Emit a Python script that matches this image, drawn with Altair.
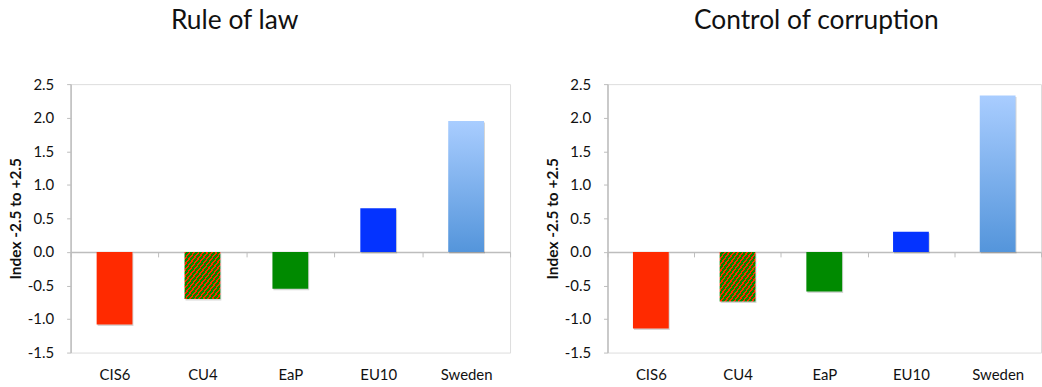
import altair as alt
import pandas as pd

# Governance indicators by country group (index range -2.5 to +2.5)
categories = ["CIS6", "CU4", "EaP", "EU10", "Sweden"]
rule_of_law = [-1.08, -0.70, -0.55, 0.65, 1.95]
control_of_corruption = [-1.14, -0.74, -0.59, 0.30, 2.33]
y_ticks = [-1.5, -1.0, -0.5, 0.0, 0.5, 1.0, 1.5, 2.0, 2.5]

solid_groups = ["CIS6", "EaP", "EU10"]
solid_colors = ["#FF2A00", "#008A00", "#0433FF"]
hatch_red, hatch_green = "#FF2A00", "#008A00"
sweden_top, sweden_bottom = "#A9CDFF", "#5495DB"

FONT = "Lato"
TEXT = "#111111"
AXIS = "#BDBDBD"


def hatch_gradient(n=16):
    """Diagonal red/green stripes built from hard-edged gradient stops."""
    stops = []
    for i in range(n):
        a, b, c = i / n, (i + 0.42) / n, (i + 1) / n
        stops += [
            alt.GradientStop(color=hatch_red, offset=a),
            alt.GradientStop(color=hatch_red, offset=b),
            alt.GradientStop(color=hatch_green, offset=b),
            alt.GradientStop(color=hatch_green, offset=c),
        ]
    return alt.Gradient(gradient="linear", stops=stops, x1=0, y1=0, x2=1, y2=1)


def fade_gradient():
    return alt.Gradient(
        gradient="linear",
        stops=[
            alt.GradientStop(color=sweden_top, offset=0),
            alt.GradientStop(color=sweden_bottom, offset=1),
        ],
        x1=0, y1=0, x2=0, y2=1,
    )


def panel(title, values, width, title_dx, bar_size):
    df = pd.DataFrame({"group": categories, "value": values})
    height = 270
    zero_shift = -height * 1.5 / 4.0  # move the category axis up to y = 0

    x = alt.X(
        "group:N",
        sort=categories,
        scale=alt.Scale(domain=categories, paddingInner=0, paddingOuter=0),
        axis=alt.Axis(
            title=None,
            orient="bottom",
            offset=zero_shift,
            domainColor=AXIS,
            domainWidth=1.5,
            tickColor=AXIS,
            tickWidth=1,
            tickSize=5,
            tickBand="extent",
            labelAngle=0,
            labelPadding=111,
            labelFont=FONT,
            labelFontSize=15,
            labelColor=TEXT,
        ),
    )
    y = alt.Y(
        "value:Q",
        scale=alt.Scale(domain=[-1.5, 2.5], nice=False, zero=False),
        axis=alt.Axis(
            values=y_ticks,
            labelExpr="replace(format(datum.value, '.1f'), '\u2212', '-')",
            title="Index -2.5 to +2.5",
            titleFont=FONT,
            titleFontSize=15.5,
            titleFontWeight="bold",
            titleColor=TEXT,
            titlePadding=3.5,
            labelFont=FONT,
            labelFontSize=15,
            labelColor=TEXT,
            labelPadding=13,
            grid=False,
            domainColor=AXIS,
            domainWidth=1.5,
            tickColor=AXIS,
            tickSize=4,
        ),
    )

    base = alt.Chart(df).encode(x=x, y=y)

    shadow = base.mark_bar(
        size=bar_size, color="#000000", opacity=0.16, xOffset=1, yOffset=1.5
    )
    solid = base.mark_bar(size=bar_size).encode(
        color=alt.Color(
            "group:N",
            scale=alt.Scale(domain=solid_groups, range=solid_colors),
            legend=None,
        )
    ).transform_filter(alt.FieldOneOfPredicate(field="group", oneOf=solid_groups))
    hatched = base.mark_bar(size=bar_size, color=hatch_gradient()).transform_filter(
        alt.datum.group == "CU4"
    )
    faded = base.mark_bar(size=bar_size, color=fade_gradient()).transform_filter(
        alt.datum.group == "Sweden"
    )

    return alt.layer(shadow, solid, hatched, faded).properties(
        width=width,
        height=height,
        title=alt.Title(
            title,
            font=FONT,
            fontSize=26.5,
            fontWeight="normal",
            color=TEXT,
            anchor="middle",
            frame="group",
            dx=title_dx,
            offset=22,
            baseline="alphabetic",
        ),
    )


left = panel("Rule of law", rule_of_law, 442, -56, 36)
right = panel("Control of corruption", control_of_corruption, 436, -8, 36)

chart = (
    alt.hconcat(left, right, spacing=34)
    .properties(padding={"left": 8, "top": 6.5, "right": 0, "bottom": 0})
    .configure_view(stroke=None)
    .configure(font=FONT, background="white")
)

chart.save("out.html", embed_options={"renderer": "svg", "actions": False})
